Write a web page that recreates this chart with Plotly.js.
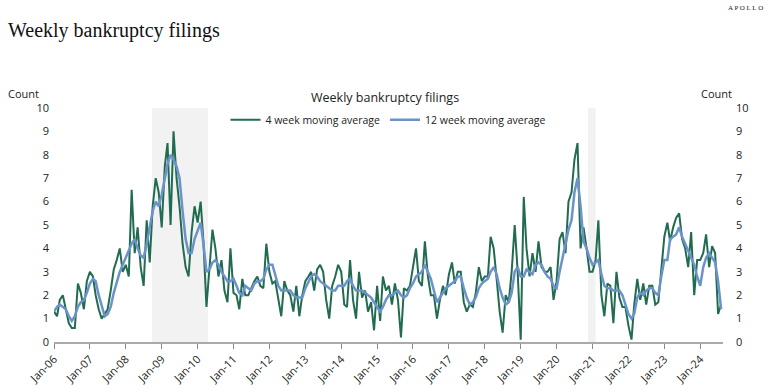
<!DOCTYPE html>
<html>
<head>
<meta charset="utf-8">
<script src="https://cdn.plot.ly/plotly-3.0.1.min.js"></script>
<style>
html,body{margin:0;padding:0;background:#fff;}
#chart{width:772px;height:390px;}
</style>
</head>
<body>
<div id="chart"></div>
<script>
// Monthly readings, starting Jan 2006
const startYear = 2006;
const fourWeek = [
 1.3,1.1,1.8,2.0,1.4,0.8,0.6,0.6,2.5,2.1,1.4,2.6,
 3.0,2.8,2.0,1.4,1.0,1.2,1.4,2.2,3.1,3.5,4.0,3.0,
 3.3,2.8,6.5,3.8,4.9,3.2,2.4,5.2,3.4,5.8,7.0,6.4,
 4.9,7.5,8.5,5.0,9.0,7.0,5.8,4.2,3.2,2.8,4.7,5.8,
 5.1,6.0,4.3,1.5,3.0,4.8,4.0,2.8,3.5,2.2,1.7,4.0,
 2.1,2.0,1.4,2.7,2.0,2.0,2.3,2.6,2.8,2.4,2.3,4.2,
 3.0,2.5,2.6,1.8,1.1,2.6,2.2,2.0,1.3,2.4,1.1,2.0,
 2.6,2.8,3.0,2.2,3.1,3.3,3.0,1.8,1.0,2.4,2.8,3.3,
 3.0,1.6,1.5,3.5,1.8,1.0,3.0,1.9,2.2,1.3,1.7,0.5,
 2.4,0.9,2.8,2.2,2.4,1.6,2.5,1.8,0.2,2.3,2.2,2.4,
 3.2,4.0,2.6,2.4,4.3,2.8,2.0,2.0,1.0,1.8,2.4,2.0,
 2.9,3.4,2.5,3.0,3.0,1.7,1.3,1.6,1.5,2.1,3.2,2.6,
 2.8,2.8,4.5,4.0,2.7,1.3,0.4,2.0,1.7,3.0,5.0,3.0,
 0.1,6.2,4.0,2.8,3.8,3.0,4.3,3.2,3.0,3.0,3.2,1.8,
 2.6,4.4,4.7,3.8,6.0,6.4,7.8,8.5,4.0,4.9,4.0,3.0,
 3.0,3.5,5.2,2.0,1.1,2.5,2.4,0.8,3.0,1.9,1.5,1.5,
 0.7,0.1,1.6,2.7,1.8,2.5,1.6,2.4,2.4,1.6,1.7,3.0,
 4.5,5.1,4.3,4.9,5.3,5.5,4.4,4.0,3.2,4.7,2.0,3.5,
 3.5,3.8,4.6,3.2,4.1,3.8,1.2,1.6
];
const twelveWeek = [
 1.3,1.5,1.6,1.5,1.4,1.1,0.9,1.1,1.5,1.7,1.8,2.1,
 2.5,2.7,2.6,2.0,1.5,1.1,1.2,1.5,2.1,2.6,3.0,3.3,
 3.6,3.9,4.2,4.4,4.0,3.7,3.6,4.2,4.9,5.6,6.0,5.8,
 6.3,7.0,7.6,8.0,7.8,7.5,7.0,5.6,4.4,3.8,3.8,4.4,
 4.8,5.1,4.2,3.0,3.1,3.4,3.5,3.3,3.0,2.8,2.6,2.6,
 2.7,2.4,2.1,2.0,2.4,2.3,2.2,2.5,2.6,2.6,2.7,3.1,
 3.3,3.3,2.8,2.4,2.2,2.2,2.2,2.2,2.0,1.9,1.9,1.9,
 2.3,2.6,2.8,2.9,2.8,2.6,2.5,2.4,2.3,2.2,2.2,2.4,
 2.4,2.4,2.6,2.7,2.4,2.2,2.2,2.2,2.1,2.0,1.9,1.7,
 1.5,1.3,1.5,1.8,2.0,2.0,2.1,2.2,2.0,1.9,2.0,2.3,
 2.5,2.8,2.9,3.0,3.3,3.0,2.7,2.2,1.7,1.9,2.1,2.3,
 2.4,2.5,2.6,2.8,2.8,2.3,1.9,1.6,1.7,1.9,2.3,2.5,
 2.6,2.7,3.0,3.2,2.9,2.3,1.9,1.6,1.7,2.1,3.0,3.2,
 2.8,2.8,3.1,3.0,2.9,3.3,3.4,3.3,3.0,2.8,2.7,2.4,
 2.3,3.0,3.6,4.3,4.8,5.2,6.4,7.0,5.8,4.3,4.0,3.6,
 3.3,3.4,3.5,2.9,2.4,2.3,2.3,2.2,2.2,2.2,2.0,1.6,
 1.2,1.0,1.2,1.9,2.1,2.0,2.2,2.3,2.3,2.1,2.0,2.8,
 3.5,3.5,4.4,4.5,4.6,4.9,4.5,4.2,3.9,3.6,3.3,2.8,
 2.4,3.2,3.6,3.8,3.6,3.4,2.6,1.4
];
const seriesNames = ['4 week moving average','12 week moving average'];
const shadedPeriods = [['2008-09-24','2010-04-16'],['2020-11-15','2021-02-01']];

function monthDates(n){
  const out=[];
  for(let i=0;i<n;i++){
    const y=startYear+Math.floor(i/12), m=(i%12)+1;
    out.push(y+'-'+String(m).padStart(2,'0')+'-01');
  }
  return out;
}

const sans = 'Open Sans, Noto Sans, sans-serif';
const green = '#216b50';
const blue = '#6b93c9';

const traces = [
  {x: monthDates(fourWeek.length), y: fourWeek, name: seriesNames[0], type:'scatter', mode:'lines',
   line:{color:green, width:2}},
  {x: monthDates(twelveWeek.length), y: twelveWeek, name: seriesNames[1], type:'scatter', mode:'lines',
   line:{color:blue, width:2.5}},
  {x: [monthDates(1)[0]], y:[null], yaxis:'y2', showlegend:false, hoverinfo:'skip', type:'scatter', mode:'lines'}
];

const shapes = shadedPeriods.map(p => ({
  type:'rect', xref:'x', yref:'paper', x0:p[0], x1:p[1], y0:0, y1:1,
  fillcolor:'#f2f2f2', line:{width:0}, layer:'below'
}));

const layout = {
  width:772, height:390,
  margin:{l:54, r:49, t:108, b:48},
  paper_bgcolor:'#fff', plot_bgcolor:'#fff',
  showlegend:true,
  legend:{orientation:'h', x:0.5, xanchor:'center', y:0.95, yanchor:'middle',
    font:{family:sans, size:10.5, color:'#222'}, itemwidth:30, bgcolor:'rgba(0,0,0,0)'},
  xaxis:{type:'date', range:['2006-01-01','2024-08-20'], tick0:'2006-01-01', dtick:'M12',
    tickformat:'%b-%y', tickangle:-45, ticks:'outside', ticklen:5, tickcolor:'#888',
    showline:true, linecolor:'#aaa', linewidth:1.5, showgrid:false, zeroline:false,
    tickfont:{family:sans, size:11, color:'#222'}},
  yaxis:{range:[0,10], dtick:1, showgrid:false, zeroline:false, showline:false,
    ticks:'', ticklabelstandoff:4, tickfont:{family:sans, size:11, color:'#222'}},
  yaxis2:{range:[0,10], dtick:1, overlaying:'y', side:'right', showgrid:false, zeroline:false,
    showline:false, ticks:'', ticklabelstandoff:12, tickfont:{family:sans, size:11, color:'#222'}},
  shapes: shapes,
  annotations:[
    {text:'Weekly bankruptcy filings', xref:'paper', yref:'paper', x:-0.072, y:1.333,
     xanchor:'left', yanchor:'middle', showarrow:false,
     font:{family:'Liberation Serif, serif', size:20, color:'#111'}},
    {text:'A P O L L O', xref:'paper', yref:'paper', x:1.063, y:1.427, xanchor:'right', yanchor:'middle',
     showarrow:false, font:{family:'Liberation Serif, serif', size:7, color:'#222'}},
    {text:'Weekly bankruptcy filings', xref:'paper', yref:'paper', x:0.495, y:1.047,
     xanchor:'center', yanchor:'middle', showarrow:false, font:{family:sans, size:12.5, color:'#222'}},
    {text:'Count', xref:'paper', yref:'paper', x:-0.045, y:1.06, xanchor:'center', yanchor:'middle',
     showarrow:false, font:{family:sans, size:11, color:'#222'}},
    {text:'Count', xref:'paper', yref:'paper', x:0.99, y:1.06, xanchor:'center', yanchor:'middle',
     showarrow:false, font:{family:sans, size:11, color:'#222'}}
  ]
};

Plotly.newPlot('chart', traces, layout, {displayModeBar:false, staticPlot:true});
</script>
</body>
</html>
